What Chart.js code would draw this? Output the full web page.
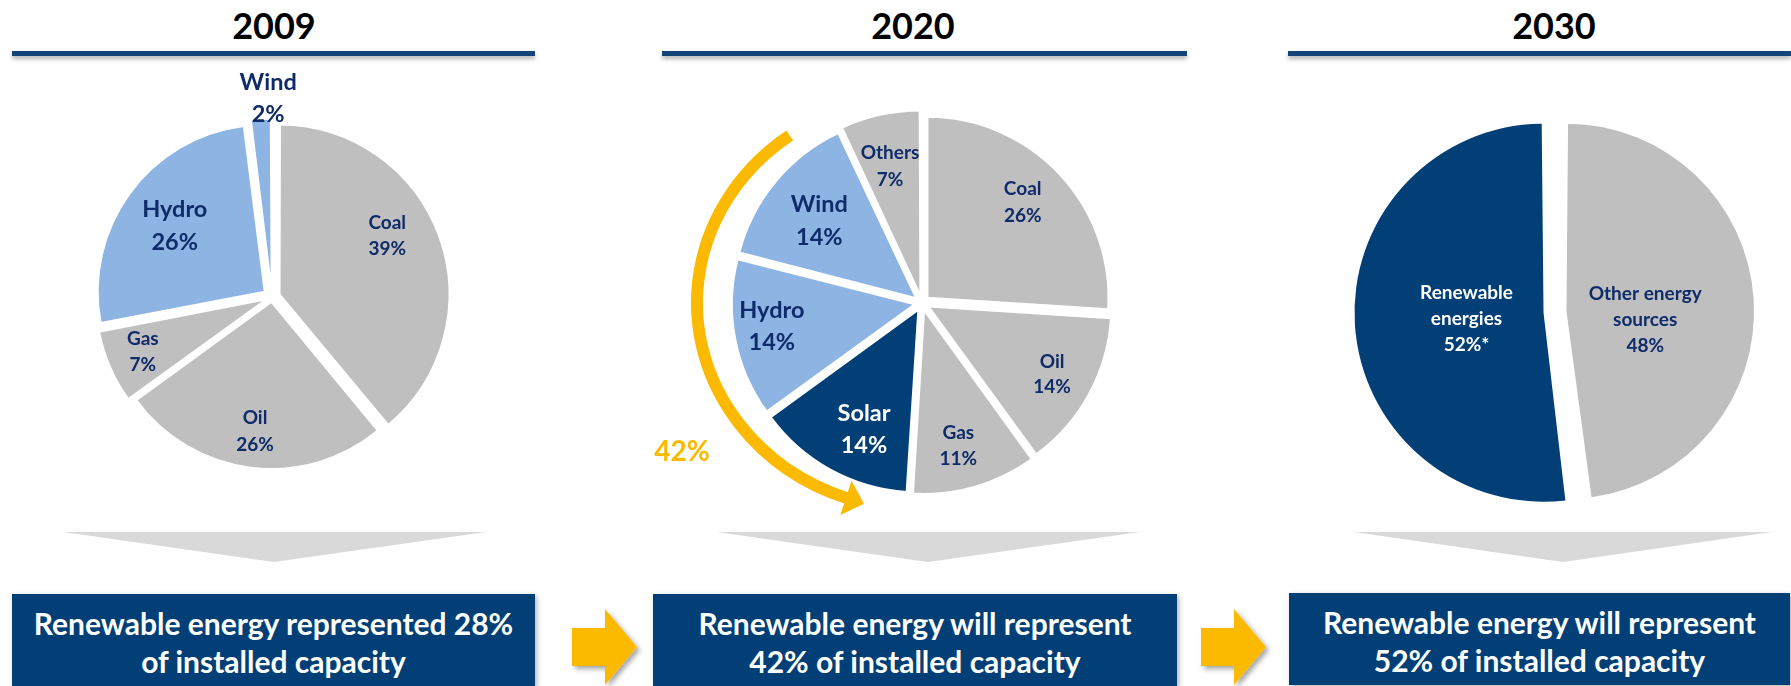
<!DOCTYPE html>
<html><head><meta charset="utf-8">
<script src="https://cdn.jsdelivr.net/npm/chart.js@4.4.1/dist/chart.umd.min.js"></script>
<style>
html,body{margin:0;padding:0;background:#fff;}
body{width:1791px;height:686px;position:relative;overflow:hidden;font-family:Lato,'Open Sans',sans-serif;}
.title{position:absolute;top:0;height:50px;line-height:50px;width:300px;text-align:center;font-weight:700;font-size:36px;color:#000;}
.rule{position:absolute;top:51px;height:5px;background:#12447a;box-shadow:0 3px 4px rgba(0,0,0,0.3);}
.box{position:absolute;top:594px;height:92px;box-sizing:border-box;padding-top:10px;background:#023f76;color:#fff;font-weight:700;font-size:30px;line-height:38px;text-align:center;box-shadow:2px 2px 5px rgba(0,0,0,0.3);white-space:nowrap;}
canvas{position:absolute;}
svg{position:absolute;left:0;top:0;}
</style></head>
<body>
<svg width="1791" height="686">
  <defs><filter id="sh" x="-20%" y="-20%" width="150%" height="150%"><feDropShadow dx="3" dy="3" stdDeviation="2.5" flood-color="#000" flood-opacity="0.35"/></filter></defs>
  <polygon points="63,532 486,532 274,562" fill="#d9d9d9"/>
  <polygon points="717,532 1140,532 928,562" fill="#d9d9d9"/>
  <polygon points="1354,532 1772,532 1563,562" fill="#d9d9d9"/>
  <polygon points="572,628 605,628 605,609 637,647 605,685 605,666 572,666" fill="#fbb900" filter="url(#sh)"/>
  <polygon points="1201,628 1234,628 1234,609 1266,647 1234,685 1234,666 1201,666" fill="#fbb900" filter="url(#sh)"/>
</svg>
<div class="title" id="t0" style="left:124px"></div>
<div class="title" id="t1" style="left:763px"></div>
<div class="title" id="t2" style="left:1404px"></div>
<div class="rule" style="left:12px;width:523px"></div>
<div class="rule" style="left:662px;width:525px"></div>
<div class="rule" style="left:1288px;width:503px"></div>
<canvas id="c1" width="480" height="480" style="left:32px;top:57px"></canvas>
<canvas id="c2" width="560" height="480" style="left:642px;top:63px"></canvas>
<canvas id="c3" width="480" height="480" style="left:1315px;top:72px"></canvas>
<div class="box" style="left:12px;width:523px">Renewable energy represented 28%<br>of installed capacity</div>
<div class="box" style="left:653px;width:524px">Renewable energy will represent<br>42% of installed capacity</div>
<div class="box" style="left:1289px;top:593px;width:501px">Renewable energy will represent<br>52% of installed capacity</div>
<script>
// ---- data ----
const years = ['2009', '2020', '2030'];
const categories2009 = ['Coal', 'Oil', 'Gas', 'Hydro', 'Wind'];
const shares2009 = [39, 26, 7, 26, 2];
const categories2020 = ['Coal', 'Oil', 'Gas', 'Solar', 'Hydro', 'Wind', 'Others'];
const shares2020 = [26, 14, 11, 14, 14, 14, 7];
const categories2030 = [['Other energy', 'sources'], ['Renewable', 'energies']];
const shares2030 = [48, 52];
const notes2030 = ['', '*'];
const renewableShare2020 = 42;

// ---- styles ----
const GRAY = '#bfbfbf', LIGHT = '#8db4e2', NAVY = '#023f76', TXT = '#0f2b69', WHITE = '#ffffff';
const FONT = 'Lato, "Open Sans", sans-serif';

years.forEach((y, i) => { document.getElementById('t' + i).textContent = y; });

const sliceLabels = {
  id: 'sliceLabels',
  afterDatasetsDraw(chart, args, opts) {
    const ctx = chart.ctx;
    const meta = chart.getDatasetMeta(0);
    const ds = chart.data.datasets[0];
    meta.data.forEach((arc, i) => {
      const p = opts.place[i];
      const mid = (arc.startAngle + arc.endAngle) / 2 + p[1] * Math.PI / 180;
      const r = arc.outerRadius * p[0];
      const x = arc.x + Math.cos(mid) * r, y = arc.y + Math.sin(mid) * r;
      const name = chart.data.labels[i];
      const lines = (Array.isArray(name) ? name : [name]).concat([ds.data[i] + '%' + (opts.suffix ? opts.suffix[i] : '')]);
      ctx.save();
      ctx.font = '700 ' + p[2] + 'px ' + FONT;
      ctx.fillStyle = opts.colors[i];
      ctx.textAlign = 'center';
      ctx.textBaseline = 'middle';
      lines.forEach((t, k) => ctx.fillText(t, x, y + (k - (lines.length - 1) / 2) * p[3]));
      ctx.restore();
    });
  }
};

const curvedArrow = {
  id: 'curvedArrow',
  afterDatasetsDraw(chart, args, opts) {
    if (!opts.show) return;
    const ctx = chart.ctx;
    const arc0 = chart.getDatasetMeta(0).data[0];
    const cx = arc0.x, cy = arc0.y;
    const rx = 225, ry = 207;
    const a0 = 234 * Math.PI / 180, a1 = 109.5 * Math.PI / 180;
    ctx.save();
    ctx.strokeStyle = '#fbb900';
    ctx.lineWidth = 12;
    ctx.lineCap = 'butt';
    ctx.beginPath();
    ctx.ellipse(cx, cy, rx, ry, 0, a0, a1, true);
    ctx.stroke();
    // arrow head
    const ex = cx + rx * Math.cos(a1), ey = cy + ry * Math.sin(a1);
    let tx = rx * Math.sin(a1), ty = -ry * Math.cos(a1);
    const tl = Math.hypot(tx, ty); tx /= tl; ty /= tl;
    const nx = -ty, ny = tx;
    ctx.fillStyle = '#fbb900';
    ctx.beginPath();
    ctx.moveTo(ex - tx * 1 + nx * 18, ey - ty * 1 + ny * 18);
    ctx.lineTo(ex + tx * 18, ey + ty * 18);
    ctx.lineTo(ex - tx * 1 - nx * 18, ey - ty * 1 - ny * 18);
    ctx.closePath();
    ctx.fill();
    ctx.font = '700 28px ' + FONT;
    ctx.textAlign = 'center';
    ctx.textBaseline = 'middle';
    ctx.fillText(opts.text, cx - 240, cy + 149);
    ctx.restore();
  }
};

function makePie(id, labels, data, colors, radius, border, offsets, labelOpts, arrowOpts) {
  return new Chart(document.getElementById(id), {
    type: 'pie',
    data: {
      labels: labels,
      datasets: [{
        data: data,
        backgroundColor: colors,
        borderColor: WHITE,
        borderWidth: border,
        offset: offsets,
        hoverOffset: 0
      }]
    },
    options: {
      responsive: false,
      animation: false,
      events: [],
      radius: radius,
      layout: { padding: 0 },
      plugins: {
        legend: { display: false },
        tooltip: { enabled: false },
        sliceLabels: labelOpts,
        curvedArrow: arrowOpts || { show: false }
      }
    },
    plugins: [curvedArrow, sliceLabels]
  });
}

makePie('c1', categories2009, shares2009,
  [GRAY, GRAY, GRAY, LIGHT, LIGHT], 167, 2, [32, 20, 24, 36, 24],
  { colors: [TXT, TXT, TXT, TXT, TXT],
    place: [[0.78, -8, 19, 26], [0.81, 0, 19, 26.5], [0.84, 0.5, 19, 26], [0.72, 0, 23.5, 33], [1.19, 2.5, 23.5, 32]] });

makePie('c2', categories2020, shares2020,
  [GRAY, GRAY, GRAY, NAVY, LIGHT, LIGHT, GRAY], 181, 2, 30,
  { colors: [TXT, TXT, TXT, WHITE, TXT, TXT, TXT],
    place: [[0.786, -1.75, 19, 26.4], [0.82, 0, 19, 25.6], [0.817, 2, 19, 26], [0.77, -4.2, 23.5, 32.4], [0.84, 1.8, 23.5, 32], [0.726, -1, 23.5, 33.4], [0.774, -0.6, 19, 26.7]] },
  { show: true, text: renewableShare2020 + '%' });

makePie('c3', categories2030, shares2030,
  [GRAY, NAVY], 177.5, 0, 46,
  { colors: [TXT, WHITE], suffix: notes2030,
    place: [[0.51, 8.5, 19, 26.3], [0.5, -0.9, 19, 26.2]] });
</script>
</body></html>
